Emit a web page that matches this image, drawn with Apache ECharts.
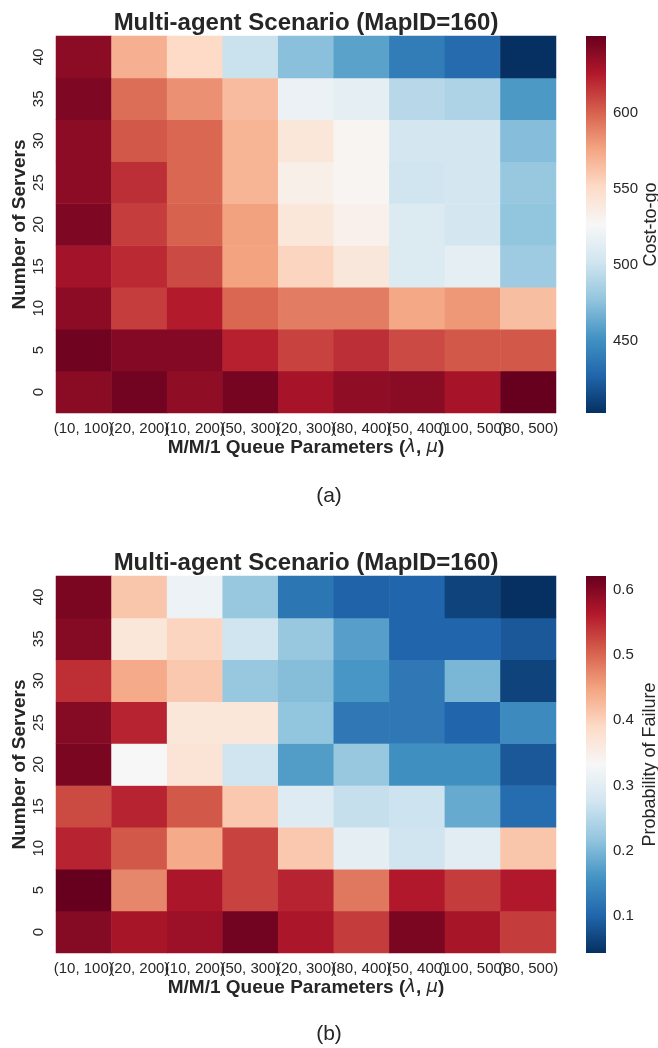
<!DOCTYPE html>
<html>
<head>
<meta charset="utf-8">
<script src="https://cdn.jsdelivr.net/npm/echarts@6/dist/echarts.min.js"></script>
<style>
html,body{margin:0;padding:0;background:#fff;}
#c{width:658px;height:1048px;}
</style>
</head>
<body>
<div id="c"></div>
<script>
// ---- data ----
const queueParams = ['(10, 100)', '(20, 200)', '(10, 200)', '(50, 300)', '(20, 300)', '(80, 400)', '(50, 400)', '(100, 500)', '(80, 500)'];
const servers = ['0', '5', '10', '15', '20', '25', '30', '35', '40'];

// rows ordered as servers (0 .. 40), columns as queueParams
const costToGo = [
  [639.5, 647, 637, 645.7, 629.6, 637, 639.5, 629.6, 650.7],
  [648, 641, 641, 623, 611, 618, 608.5, 603.6, 603.6],
  [638, 613, 625, 598.6, 591, 591, 575, 581, 565],
  [631, 620, 608.5, 577, 554, 541, 509, 514, 482],
  [643, 613, 600, 577.5, 541.5, 533, 509, 504, 477],
  [638, 618, 598.6, 569, 534, 529, 502, 504, 479],
  [638, 603.6, 598.6, 569, 541.5, 529, 504, 504, 473],
  [643, 596, 583.7, 566, 519, 514, 492, 488, 455],
  [638, 571, 551.5, 499, 474.5, 459.7, 440, 430, 402.6]
];
const probFailure = [
  [0.598, 0.572, 0.581, 0.613, 0.569, 0.535, 0.607, 0.572, 0.535],
  [0.6215, 0.474, 0.569, 0.529, 0.555, 0.486, 0.564, 0.535, 0.564],
  [0.555, 0.512, 0.442, 0.529, 0.410, 0.303, 0.274, 0.298, 0.413],
  [0.523, 0.555, 0.512, 0.410, 0.295, 0.263, 0.271, 0.185, 0.110],
  [0.607, 0.332, 0.373, 0.274, 0.170, 0.222, 0.153, 0.153, 0.086],
  [0.598, 0.555, 0.367, 0.367, 0.217, 0.124, 0.124, 0.101, 0.147],
  [0.546, 0.442, 0.410, 0.222, 0.208, 0.162, 0.124, 0.199, 0.063],
  [0.598, 0.367, 0.396, 0.274, 0.222, 0.173, 0.101, 0.101, 0.086],
  [0.607, 0.413, 0.315, 0.222, 0.121, 0.098, 0.101, 0.063, 0.043]
];
const costTicks = [450, 500, 550, 600];
const failTicks = [0.1, 0.2, 0.3, 0.4, 0.5, 0.6];

// RdBu_r colormap
const rdbu_r = ['#053061', '#2166ac', '#4393c3', '#92c5de', '#d1e5f0', '#f7f7f7', '#fddbc7', '#f4a582', '#d6604d', '#b2182b', '#67001f'];

function flat(m) {
  const out = [];
  m.forEach((row, yi) => row.forEach((v, xi) => out.push([xi, yi, v])));
  return out;
}
function minOf(m) { return Math.min(...m.map(r => Math.min(...r))); }
function maxOf(m) { return Math.max(...m.map(r => Math.max(...r))); }

const costMin = minOf(costToGo), costMax = maxOf(costToGo);
const failMin = minOf(probFailure), failMax = maxOf(probFailure);

const TXT = '#262626';
const FONT = 'Liberation Sans';

const chart = echarts.init(document.getElementById('c'), null, {renderer: 'canvas'});

function catX(gi) {
  return {
    gridIndex: gi, type: 'category', data: queueParams,
    axisLine: {show: false}, axisTick: {show: false}, splitLine: {show: false},
    axisLabel: {color: TXT, fontFamily: FONT, fontSize: 15, margin: 8, interval: 0, hideOverlap: false},
    name: 'M/M/1 Queue Parameters ({i|λ}, {i|μ})', nameLocation: 'middle', nameGap: 25, nameMoveOverlap: false,
    nameTextStyle: {color: TXT, fontFamily: FONT, fontSize: 19, fontWeight: 'bold', verticalAlign: 'top',
      rich: {i: {fontFamily: 'DejaVu Sans', fontStyle: 'italic', fontWeight: 'normal', fontSize: 18, color: TXT}}}
  };
}
function catY(gi) {
  return {
    gridIndex: gi, type: 'category', data: servers,
    axisLine: {show: false}, axisTick: {show: false}, splitLine: {show: false},
    axisLabel: {color: TXT, fontFamily: FONT, fontSize: 15, rotate: 90, margin: 10},
    name: 'Number of Servers', nameLocation: 'middle', nameGap: 27, nameRotate: 90, nameMoveOverlap: false,
    nameTextStyle: {color: TXT, fontFamily: FONT, fontSize: 19, fontWeight: 'bold'}
  };
}
function cbX(gi) {
  return {gridIndex: gi, type: 'value', min: 0, max: 1, show: false};
}
function cbY(gi, mn, mx, ticks, name) {
  return {
    gridIndex: gi, type: 'value', min: mn, max: mx, position: 'right',
    axisLine: {show: false}, splitLine: {show: false},
    axisTick: {show: false, customValues: ticks},
    axisLabel: {color: TXT, fontFamily: FONT, fontSize: 15, margin: 7, customValues: ticks,
      formatter: v => String(v)},
    name: name, nameLocation: 'middle', nameRotate: 90, nameGap: 35,
    nameTextStyle: {color: TXT, fontFamily: FONT, fontSize: 18}
  };
}
function colorbarSeries(xi, yi, mn, mx) {
  return {
    type: 'custom', xAxisIndex: xi, yAxisIndex: yi, silent: true,
    data: [[0, mn, mx]],
    renderItem: function (params, api) {
      const p1 = api.coord([0, api.value(2)]);
      const p2 = api.coord([1, api.value(1)]);
      const stops = rdbu_r.slice().reverse().map((c, i) => ({offset: i / (rdbu_r.length - 1), color: c}));
      return {
        type: 'rect',
        shape: {x: p1[0], y: p1[1], width: p2[0] - p1[0], height: p2[1] - p1[1]},
        style: {fill: new echarts.graphic.LinearGradient(0, 0, 0, 1, stops)}
      };
    }
  };
}

const gridBase = {outerBoundsMode: 'none', containLabel: false};

const option = {
  backgroundColor: '#fff',
  animation: false,
  title: [
    {text: 'Multi-agent Scenario (MapID=160)', left: 301, top: 6, textAlign: 'center',
      textStyle: {color: TXT, fontFamily: FONT, fontSize: 24, fontWeight: 'bold'}},
    {text: 'Multi-agent Scenario (MapID=160)', left: 301, top: 546, textAlign: 'center',
      textStyle: {color: TXT, fontFamily: FONT, fontSize: 24, fontWeight: 'bold'}},
    {text: '(a)', left: 324, top: 481, textAlign: 'center',
      textStyle: {color: TXT, fontFamily: FONT, fontSize: 21, fontWeight: 'normal'}},
    {text: '(b)', left: 324, top: 1019, textAlign: 'center',
      textStyle: {color: TXT, fontFamily: FONT, fontSize: 21, fontWeight: 'normal'}}
  ],
  grid: [
    Object.assign({left: 56, top: 36, width: 500, height: 377}, gridBase),
    Object.assign({left: 56, top: 576, width: 500, height: 377}, gridBase),
    Object.assign({left: 586, top: 36, width: 20, height: 377}, gridBase),
    Object.assign({left: 586, top: 576, width: 20, height: 377}, gridBase)
  ],
  xAxis: [catX(0), catX(1), cbX(2), cbX(3)],
  yAxis: [catY(0), catY(1),
    cbY(2, costMin, costMax, costTicks, 'Cost-to-go'),
    cbY(3, failMin, failMax, failTicks, 'Probability of Failure')],
  visualMap: [
    {type: 'continuous', show: false, seriesIndex: 0, min: costMin, max: costMax, dimension: 2, inRange: {color: rdbu_r}},
    {type: 'continuous', show: false, seriesIndex: 1, min: failMin, max: failMax, dimension: 2, inRange: {color: rdbu_r}}
  ],
  series: [
    {type: 'heatmap', xAxisIndex: 0, yAxisIndex: 0, data: flat(costToGo), itemStyle: {borderWidth: 0}, emphasis: {disabled: true}},
    {type: 'heatmap', xAxisIndex: 1, yAxisIndex: 1, data: flat(probFailure), itemStyle: {borderWidth: 0}, emphasis: {disabled: true}},
    colorbarSeries(2, 2, costMin, costMax),
    colorbarSeries(3, 3, failMin, failMax)
  ]
};
chart.setOption(option);
</script>
</body>
</html>
